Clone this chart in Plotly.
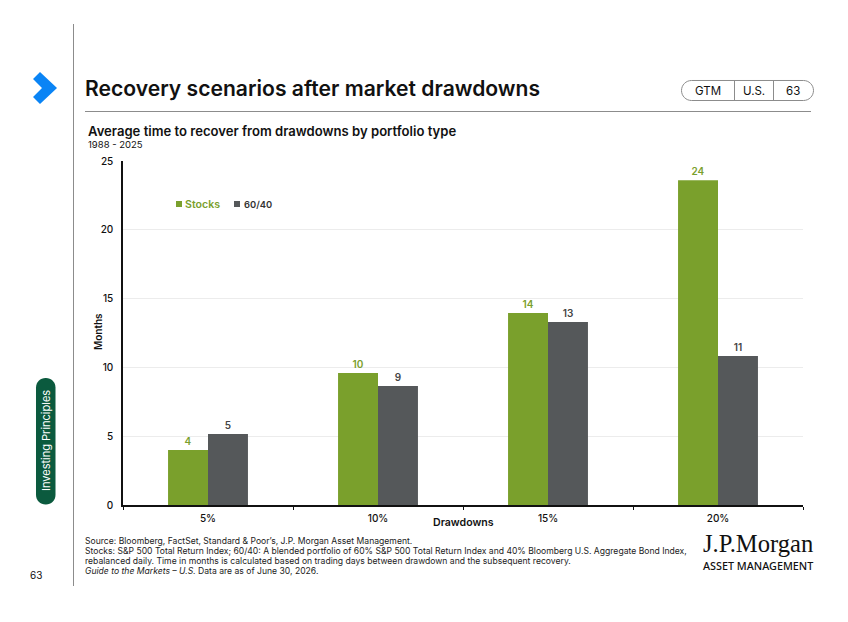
import math
import plotly.graph_objects as go

W, H = 848, 622
FONT = "Inter"
GREEN = "#7aa02c"
GREY = "#55585a"
INK = "#111111"

drawdowns = ["5%", "10%", "15%", "20%"]
stocks = [4.0, 9.6, 13.95, 23.6]
sixty_forty = [5.16, 8.65, 13.3, 10.83]
y_ticks = [0, 5, 10, 15, 20, 25]
footnotes = [
    "Source: Bloomberg, FactSet, Standard & Poor’s, J.P. Morgan Asset Management.",
    "Stocks: S&P 500 Total Return Index; 60/40: A blended portfolio of 60% S&P 500 Total Return Index and 40% Bloomberg U.S. Aggregate Bond Index,",
    "rebalanced daily. Time in months is calculated based on trading days between drawdown and the subsequent recovery.",
    "<i>Guide to the Markets – U.S.</i> Data are as of June 30, 2026.",
]


def px(x):
    return x / W


def py(y):
    return 1 - y / H


def text(x, y, s, size, color=INK, anchor="left", weight=400, angle=0, family=FONT):
    fig.add_annotation(
        x=px(x), y=py(y), xref="paper", yref="paper", text=s,
        showarrow=False, xanchor=anchor, yanchor="middle", textangle=angle,
        font=dict(size=size, color=color, family=family, weight=weight), borderpad=0,
    )


def line(x0, y0, x1, y1, color="#8c8c8c", width=1):
    fig.add_shape(type="line", xref="paper", yref="paper",
                  x0=px(x0), y0=py(y0), x1=px(x1), y1=py(y1),
                  line=dict(color=color, width=width))


def poly(points, fill=None, stroke=None, width=1):
    path = "M " + " L ".join(f"{px(a):.5f},{py(b):.5f}" for a, b in points) + " Z"
    fig.add_shape(type="path", xref="paper", yref="paper", path=path,
                  fillcolor=fill or "rgba(0,0,0,0)",
                  line=dict(color=stroke or "rgba(0,0,0,0)", width=width))


def rounded_bar(x0, y0, x1, y1, r, fill=None, stroke=None):
    # Rounded rectangle approximated with short arc segments
    pts = []
    for cx, cy, start in [(x1 - r, y0 + r, -90), (x1 - r, y1 - r, 0),
                          (x0 + r, y1 - r, 90), (x0 + r, y0 + r, 180)]:
        for i in range(9):
            a = math.radians(start + i * 90 / 8)
            pts.append((cx + r * math.cos(a), cy + r * math.sin(a)))
    poly(pts, fill, stroke)


fig = go.Figure()
for name, values, color in [("Stocks", stocks, GREEN), ("60/40", sixty_forty, GREY)]:
    fig.add_trace(go.Bar(
        name=name, x=drawdowns, y=values, marker=dict(color=color, line=dict(width=0)),
        texttemplate="%{y:.0f}", textposition="outside", cliponaxis=False,
        textfont=dict(size=10, weight=600, color=color if name == "Stocks" else "#444444", family=FONT),
        showlegend=False,
    ))

fig.update_layout(
    width=W, height=H, margin=dict(l=0, r=0, t=0, b=0, autoexpand=False), autosize=False,
    paper_bgcolor="white", plot_bgcolor="white",
    barmode="group", bargap=0.53, bargroupgap=0,
    font=dict(family=FONT, color=INK),
    xaxis=dict(domain=[px(123), px(803)], type="category", showline=True, linecolor="#111111",
               linewidth=1.5, ticks="outside", ticklen=3, tickcolor="#111111", tickson="boundaries",
               showgrid=False, tickfont=dict(size=10, color=INK, family=FONT, weight=500),
               ticklabelstandoff=3),
    yaxis=dict(domain=[py(505), py(161)], range=[0, 25], tickvals=y_ticks, showline=True,
               linecolor="#111111", linewidth=1.5, gridcolor="#ececec", gridwidth=1,
               ticks="", zeroline=False, tickfont=dict(size=10, color=INK, family=FONT, weight=500),
               ticklabelstandoff=6),
)

# Page frame, title and reference tag
line(73.5, 24, 73.5, 586)
line(85, 111.5, 811, 111.5)
poly([(33, 79), (40, 72), (57, 88), (40, 104), (33, 97), (42, 88)], fill="#0a84f5")
text(84, 88.5, "Recovery scenarios after market drawdowns", 21.1, weight=600)
text(87, 130.5, "Average time to recover from drawdowns by portfolio type", 13.1, weight=600)
text(87, 144.5, "1988 - 2025", 9.5)

rounded_bar(681.5, 80.5, 813.5, 100.5, 10, stroke="#8c8c8c")
line(734.5, 80.5, 734.5, 100.5)
line(773.5, 80.5, 773.5, 100.5)
text(707.5, 91, "GTM", 11.5, anchor="center")
text(754, 91, "U.S.", 11.5, anchor="center")
text(793, 91, "63", 11.5, anchor="center")

# Section tab and page number
rounded_bar(36, 378, 55.5, 504.5, 9.5, fill="#0b5a3e")
text(46, 441, "Investing Principles", 11, color="white", anchor="center", angle=-90)
text(36, 574.5, "63", 10, anchor="center")

# Chart key
poly([(176, 201), (182, 201), (182, 207), (176, 207)], fill=GREEN)
text(184, 204, "Stocks", 10.6, color=GREEN, weight=600)
poly([(234, 201), (240, 201), (240, 207), (234, 207)], fill=GREY)
text(243, 204, "60/40", 9.4, color="#333333", weight=600)

# Axis titles
text(98, 332, "Months", 10, weight=600, anchor="center", angle=-90)
text(463, 522, "Drawdowns", 10.6, weight=600, anchor="center")

# Footnotes
for y, note in zip([541, 551, 561, 570.5], footnotes):
    text(84, y, note, 8.6, color="#222222")

# Firm mark
text(814, 543.5, "J.P.Morgan", 24.6, anchor="right", family="Liberation Serif")
text(814, 565, "ASSET MANAGEMENT", 10.8, anchor="right", family="Noto Sans", weight=500)

fig.write_html("out.html")
